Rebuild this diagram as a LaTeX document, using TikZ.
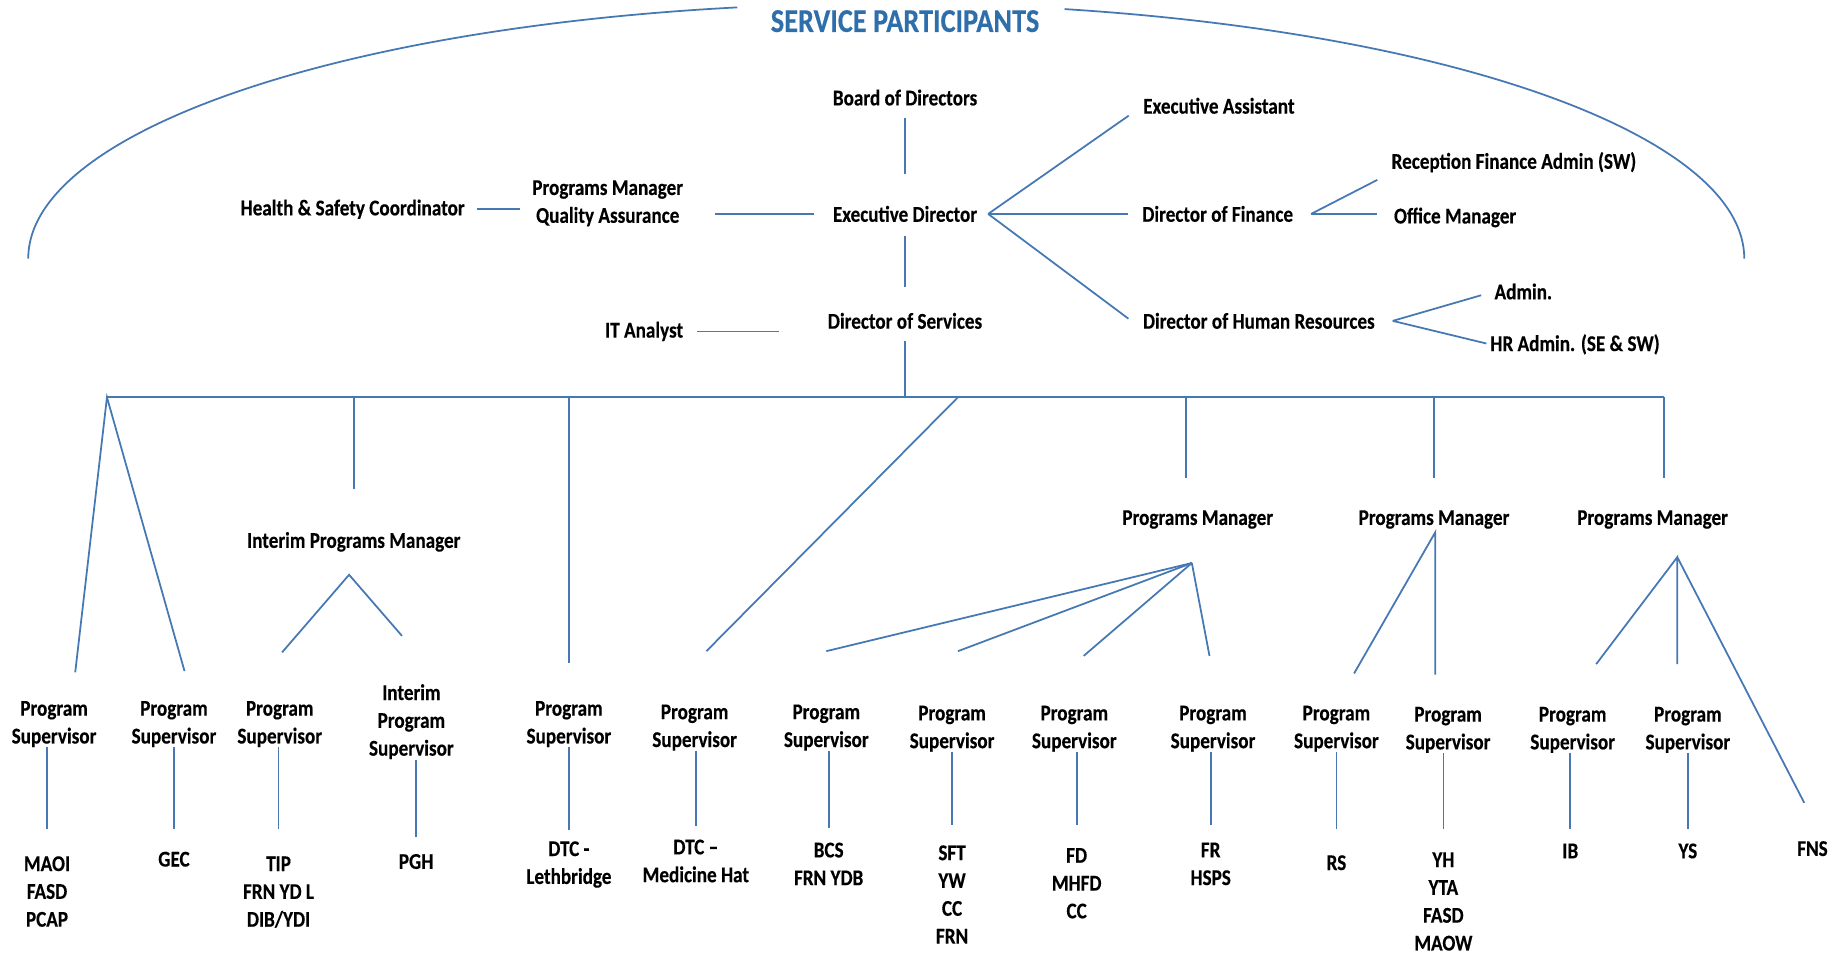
\documentclass[tikz,border=0pt]{standalone}
\usepackage{fontspec}
\setmainfont{Carlito}[FakeStretch=0.85, BoldFeatures={FakeBold=0.3}]
\definecolor{linieblau}{RGB}{70,120,180}
\definecolor{titelblau}{RGB}{46,110,170}
\tikzset{
  stelle/.style={font=\bfseries\fontsize{11.5}{14.2}\selectfont, align=center, inner sep=0pt},
  linie/.style={draw=linieblau, line width=0.9pt},
}
\begin{document}
\begin{tikzpicture}[x=0.6pt, y=-0.6pt]
    \useasboundingbox (0,0) rectangle (1568,813);
    % Titel und Bogen
    \node[font=\bfseries\fontsize{17}{20}\selectfont, text=titelblau, inner sep=0pt] (title) at (770,18) {SERVICE PARTICIPANTS};
    \draw[linie] (24,220) arc[start angle=180, end angle=260, x radius=730, y radius=217];
    \draw[linie] (1484,220) arc[start angle=0, end angle=-78, x radius=730, y radius=217];
    % Leitung
    \node[stelle] (bod) at (770,83) {Board of Directors};
    \node[stelle] (ed) at (770,182) {Executive Director};
    \node[stelle] (dos) at (770,273) {Director of Services};
    \node[stelle] (pmqa) at (517,173) {Programs Manager\\Quality Assurance};
    \node[stelle] (hsc) at (300,178) {Health \& Safety Coordinator};
    \node[stelle] (ita) at (548,282) {IT Analyst};
    \node[stelle] (ea) at (1037,90) {Executive Assistant};
    \node[stelle] (dof) at (1036,182) {Director of Finance};
    \node[stelle] (dhr) at (1071,273) {Director of Human Resources};
    \node[stelle] (rfa) at (1288,138) {Reception Finance Admin (SW)};
    \node[stelle] (om) at (1238,185) {Office Manager};
    \node[stelle] (adm) at (1296,248) {Admin.};
    \node[stelle] (hra) at (1340,293) {HR Admin. (SE \& SW)};
    \draw[linie, shorten <=6pt, shorten >=16pt] (bod) -- (ed);
    \draw[linie, shorten <=7pt, shorten >=13pt] (ed) -- (dos);
    \draw[linie, shorten <=6.3pt, shorten >=6pt] (hsc.east) -- (hsc.east -| pmqa.west);
    \draw[linie, shorten <=16pt, shorten >=9.6pt] (ed.west -| pmqa.east) -- (ed.west);
    \draw[linie, shorten <=7pt, shorten >=25pt] (ita.east) -- (ita.east -| dos.west);
    % Verzweigungen rechts
    \coordinate (edv) at ([xshift=5.4pt]ed.east);
    \coordinate (dofv) at ([xshift=9pt]dof.east);
    \coordinate (dhrv) at ([xshift=9pt]dhr.east);
    \draw[linie, shorten >=8.8pt] (edv) -- (ea.west);
    \draw[linie, shorten >=7.2pt] (edv) -- (dof.west);
    \draw[linie, shorten >=9pt] (edv) -- (dhr.south west);
    \draw[linie, shorten >=8pt] (dofv) -- (rfa.south west);
    \draw[linie, shorten >=8.4pt] (dofv) -- (dofv -| om.west);
    \draw[linie, shorten >=6.9pt] (dhrv) -- (adm.west);
    \draw[linie, shorten >=1.9pt] (dhrv) -- (hra.west);
    % Sammelschiene
    \coordinate (busl) at (91,338);
    \coordinate (busr) at (1416,338);
    \coordinate (b4) at (815,338);
    \coordinate (b5) at (1009,338);
    \draw[linie] (busl) -- (busr);
    \draw[linie, shorten <=6pt] (dos) -- (dos |- busl);
    % Programmleitung
    \node[stelle] (ipm) at (301,461) {Interim Programs Manager};
    \node[stelle] (pm1) at (1019,442) {Programs Manager};
    \node[stelle] (pm2) at (1220,442) {Programs Manager};
    \node[stelle] (pm3) at (1406,442) {Programs Manager};
    \draw[linie, shorten >=22pt] (ipm |- busl) -- (ipm);
    \draw[linie, shorten >=16.5pt] (b5) -- (b5 |- pm1.north);
    \draw[linie, shorten >=16.5pt] (pm2.north |- busl) -- (pm2.north);
    \draw[linie, shorten >=16.5pt] (busr) -- (busr |- pm3.north);
    % Supervisoren
    \node[stelle] (ps1) at (46,616) {Program\\Supervisor};
    \node[stelle] (ps2) at (148,616) {Program\\Supervisor};
    \node[stelle] (ps3) at (238,616) {Program\\Supervisor};
    \node[stelle] (ips) at (350,614) {Interim\\Program\\Supervisor};
    \node[stelle] (ps4) at (484,616) {Program\\Supervisor};
    \node[stelle] (ps5) at (591,619) {Program\\Supervisor};
    \node[stelle] (ps6) at (703,619) {Program\\Supervisor};
    \node[stelle] (ps7) at (810,620) {Program\\Supervisor};
    \node[stelle] (ps8) at (914,620) {Program\\Supervisor};
    \node[stelle] (ps9) at (1032,620) {Program\\Supervisor};
    \node[stelle] (ps10) at (1137,620) {Program\\Supervisor};
    \node[stelle] (ps11) at (1232,621) {Program\\Supervisor};
    \node[stelle] (ps12) at (1338,621) {Program\\Supervisor};
    \node[stelle] (ps13) at (1436,621) {Program\\Supervisor};
    % Faecher: Knickpunkte und freie Enden
    \coordinate (ipmv) at (297,489);
    \coordinate (pm1v) at (1014,479);
    \coordinate (pm2v) at (1221,453);
    \coordinate (pm3v) at (1427,474);
    \coordinate (zu1) at (64,572);
    \coordinate (zu2) at (157,571);
    \coordinate (zu3) at (240,555);
    \coordinate (zui) at (342,541);
    \coordinate (zu5) at (601,554);
    \coordinate (zu6) at (703,554);
    \coordinate (zu7) at (815,554);
    \coordinate (zu8) at (922,558);
    \coordinate (zu9) at (1029,558);
    \coordinate (zu10) at (1152,573);
    \coordinate (zu11) at (1221,574);
    \coordinate (zu12) at (1358,565);
    \coordinate (zu13) at (1427,565);
    \coordinate (zufns) at (1535,683);
    \draw[linie] (zu1) -- (busl) -- (zu2);
    \draw[linie] (zu3) -- (ipmv) -- (zui);
    \draw[linie, shorten >=19.2pt] (ps4.north |- busl) -- (ps4.north);
    \draw[linie] (b4) -- (zu5);
    \draw[linie] (pm1v) -- (zu6);
    \draw[linie] (pm1v) -- (zu7);
    \draw[linie] (pm1v) -- (zu8);
    \draw[linie] (pm1v) -- (zu9);
    \draw[linie] (zu10) -- (pm2v) -- (zu11);
    \draw[linie] (zu12) -- (pm3v) -- (zu13);
    \draw[linie] (pm3v) -- (zufns);
    % Programme
    \node[stelle] (l1) at (40,758.5) {MAOI\\FASD\\PCAP};
    \node[stelle] (l2) at (148,731) {GEC};
    \node[stelle] (l3) at (237,759) {TIP\\FRN YD L\\DIB/YDI};
    \node[stelle] (l4) at (354,733) {PGH};
    \node[stelle] (l5) at (484,735.5) {DTC -\\Lethbridge};
    \node[stelle] (l6) at (592,732.5) {DTC --\\Medicine Hat};
    \node[stelle] (l7) at (705,735) {BCS\\FRN YDB};
    \node[stelle] (l8) at (810,761) {SFT\\YW\\CC\\FRN};
    \node[stelle] (l9) at (916,751.5) {FD\\MHFD\\CC};
    \node[stelle] (l10) at (1030,735) {FR\\HSPS};
    \node[stelle] (l11) at (1137,734) {RS};
    \node[stelle] (l12) at (1228,767) {YH\\YTA\\FASD\\MAOW};
    \node[stelle] (l13) at (1336,724) {IB};
    \node[stelle] (l14) at (1436,724) {YS};
    \node[stelle] (fns) at (1542,722) {FNS};
    \draw[linie, shorten >=13.8pt] (l1.north |- ps1.south) -- (l1.north);
    \draw[linie, shorten >=11.4pt] (l2.north |- ps2.south) -- (l2.north);
    \draw[linie, shorten >=13.8pt] (l3.north |- ps3.south) -- (l3.north);
    \draw[linie, shorten >=8.4pt] (l4.north |- ips.south) -- (l4.north);
    \draw[linie, shorten >=5.4pt] (l5.north |- ps4.south) -- (l5.north);
    \draw[linie, shorten >=6.6pt] (l6.north |- ps5.south) -- (l6.north);
    \draw[linie, shorten >=7.2pt] (l7.north |- ps6.south) -- (l7.north);
    \draw[linie, shorten >=10pt] (l8.north |- ps7.south) -- (l8.north);
    \draw[linie, shorten >=11.4pt] (l9.north |- ps8.south) -- (l9.north);
    \draw[linie, shorten >=9pt] (l10.north |- ps9.south) -- (l10.north);
    \draw[linie, shorten >=13.2pt] (l11.north |- ps10.south) -- (l11.north);
    \draw[linie, shorten >=12pt] (l12.north |- ps11.south) -- (l12.north);
    \draw[linie, shorten >=7.2pt] (l13.north |- ps12.south) -- (l13.north);
    \draw[linie, shorten >=7.2pt] (l14.north |- ps13.south) -- (l14.north);
\end{tikzpicture}
\end{document}
